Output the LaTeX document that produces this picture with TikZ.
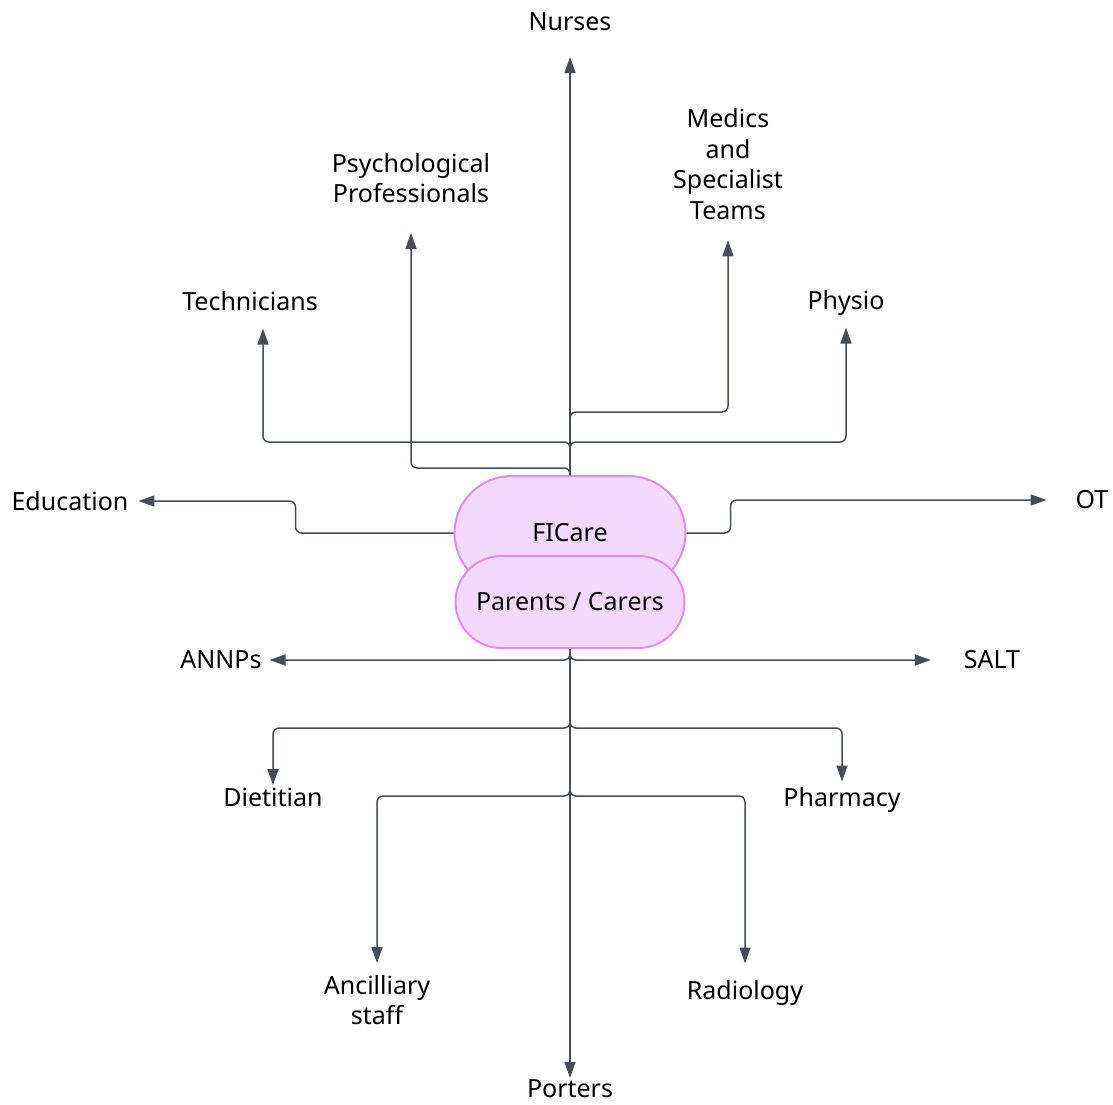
\documentclass[tikz,border=0pt]{standalone}
\usepackage{fontspec}
\setmainfont{Noto Sans}
\usetikzlibrary{arrows.meta}

\definecolor{linegray}{HTML}{474C55}
\definecolor{hubfill}{HTML}{F3D9FD}
\definecolor{hubline}{HTML}{DD8CF6}

\tikzset{
  hub/.style={draw=hubline, fill=hubfill, line width=1pt, rounded corners=#1,
    inner sep=0pt, font=\fontsize{12.5}{15.25}\selectfont},
  lbl/.style={align=center, inner sep=0pt, font=\fontsize{12.5}{15.25}\selectfont},
  link/.style={draw=linegray, line width=0.75pt, rounded corners=3pt,
    -{Triangle[length=8pt,width=5.5pt]}}
}

\begin{document}
\begin{tikzpicture}[x=0.5pt, y=-0.5pt]
    \useasboundingbox (0,0) rectangle (1113,1104);

    % Central boxes
    \node[hub=28.5pt, minimum width=115.5pt, minimum height=57pt] (ficare) at (570,533) {FICare};
    \node[hub=23pt, minimum width=114.5pt, minimum height=46pt] (parents) at (570,602) {Parents / Carers};

    % Labels round the boxes
    \foreach \n/\x/\y/\g/\t in {nurses/570/22/13/Nurses, medics/728/164/10.5/{Medics\\and\\Specialist\\Teams},
      psych/411/178/15/{Psychological\\Professionals}, techs/250/301/9/Technicians, physio/846/303/6/Physio,
      educ/70/501/5/Education, ot/1092/500/14.5/OT, annps/221/660/4/ANNPs, salt/992/660/16.5/SALT,
      diet/273/797/1.25/Dietitian, pharm/842/800/3/Pharmacy, ancil/377/1000/6/{Ancilliary\\staff},
      radio/745/993/8.5/Radiology, porters/570/1089/1/Porters} {
      \node[lbl, outer sep=\g pt] (\n) at (\x,\y) {\t};
    }

    % Junctions on the trunk
    \coordinate (jmed) at (570,412);
    \coordinate (jtop) at (570,442);
    \coordinate (jpsy) at (570,468);
    \coordinate (jsalt) at (570,660);
    \coordinate (jdiet) at (570,728);
    \coordinate (jrad) at (570,796);

    % Upper connectors
    \draw[link] (ficare.north) -- (nurses.south);
    \foreach \j/\n in {jmed/medics, jtop/physio, jpsy/psych} {
      \draw[link] (ficare.north) -- (\j) -| (\n.south);
    }
    \draw[link] (ficare.north) -- (jtop) -| ([xshift=6.5pt]techs.south);

    % Side connectors
    \draw[link] (ficare.west) -- ++(-158,0) |- (educ.east);
    \draw[link] (ficare.east) -- ++(44,0) |- (ot.west);
    \draw[link] (parents.south) -- (jsalt) -- (annps.east);
    \draw[link] (parents.south) -- (jsalt) -- (salt.west);

    % Lower connectors
    \foreach \j/\n in {jdiet/diet, jdiet/pharm, jrad/ancil, jrad/radio} {
      \draw[link] (parents.south) -- (\j) -| (\n.north);
    }
    \draw[link] (parents.south) -- (porters.north);
\end{tikzpicture}
\end{document}
